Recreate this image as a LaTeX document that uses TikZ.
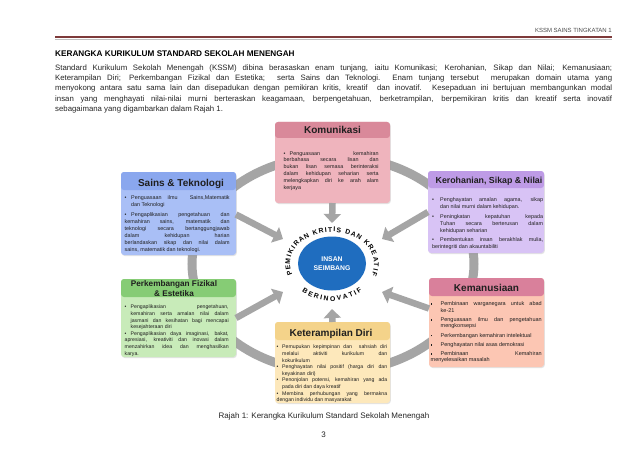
\documentclass[tikz,border=0pt]{standalone}
\usepackage{fontspec}
\setmainfont{Liberation Sans}
\usetikzlibrary{arrows.meta,decorations.text,shadows,shapes.geometric}
\definecolor{komH}{HTML}{D9899A}\definecolor{komB}{HTML}{EFB4BD}
\definecolor{sainsH}{HTML}{8AA7EE}\definecolor{sainsB}{HTML}{A9BFF6}
\definecolor{kerohH}{HTML}{BE9BE6}\definecolor{kerohB}{HTML}{D8C3F5}
\definecolor{perkH}{HTML}{86CC75}\definecolor{perkB}{HTML}{C8EBB9}
\definecolor{kemH}{HTML}{D9809B}\definecolor{kemB}{HTML}{FCC6B3}
\definecolor{keterH}{HTML}{F4D38A}\definecolor{keterB}{HTML}{FDE8BB}
\definecolor{arrowgray}{HTML}{A5A5A5}
\definecolor{insanblue}{HTML}{1F6DBF}
\definecolor{rulecol}{HTML}{7E3A3A}
\tolerance=10000 \hbadness=10000 \hfuzz=40pt \hyphenpenalty=10000
\newcommand\bul[2]{\par\hangindent=#1\hangafter=1\noindent\makebox[#1][l]{\textbullet}\ignorespaces#2}
\newcommand\sqb[2]{\par\hangindent=#1\hangafter=1\noindent\makebox[#1][l]{\rule[0.6pt]{1.7pt}{1.7pt}}\ignorespaces#2}
\newcommand\gap{\par\vspace{2.4pt}}
\newcommand\arcfont{\bfseries\fontsize{6.8}{6.8}\selectfont}
\tikzset{
 box/.style={rounded corners=3pt, inner sep=0pt, outer sep=0pt,
   drop shadow={shadow xshift=0.8pt, shadow yshift=-1pt, opacity=0.22}},
 hdr/.style 2 args={path picture={\fill[#1] (path picture bounding box.north west) rectangle ([yshift=-#2]path picture bounding box.north east);}},
 ttl/.style={inner sep=0pt, font=\bfseries\fontsize{10}{10}\selectfont, text=black!88, align=center},
 txt/.style={anchor=north west, inner sep=0pt, text width=#1, align=justify, text=black!88, font=\fontsize{5.4}{6.8}\selectfont},
 bigarrow/.style={draw=arrowgray, line width=6.5pt, -{Triangle[width=17pt,length=9pt]}},
 ring/.style={draw=arrowgray, line width=9pt},
}
\begin{document}
\begin{tikzpicture}[x=1pt,y=-1pt]
\useasboundingbox (0,0) rectangle (638,452);
\fill[white] (0,0) rectangle (638,452);
% page header
\node[anchor=base east, inner sep=0pt, font=\fontsize{6}{6}\selectfont, text=black!70] (hdrtext) at (612,33) {KSSM SAINS TINGKATAN 1};
\draw[black!25, line width=1pt] (55,39.3) -- (612,39.3);
\draw[rulecol, line width=2.6pt] (55,37) -- (612,37);
\node[anchor=base west, inner sep=0pt, font=\bfseries\fontsize{8.2}{8.2}\selectfont] (title) at (55,57) {KERANGKA KURIKULUM STANDARD SEKOLAH MENENGAH};
\node[anchor=north west, inner sep=0pt, text width=557pt, align=justify, font=\fontsize{7.8}{10.3}\selectfont, text=black!85] (para) at (55,64.5) {Standard Kurikulum Sekolah Menengah (KSSM) dibina berasaskan enam tunjang, iaitu Komunikasi; Kerohanian, Sikap dan Nilai; Kemanusiaan;\linebreak Keterampilan Diri; Perkembangan Fizikal dan Estetika;\ \ serta Sains dan Teknologi.\ \ Enam tunjang tersebut\ \ merupakan domain utama yang\linebreak menyokong antara satu sama lain dan disepadukan dengan pemikiran kritis, kreatif\ \ dan inovatif. Kesepaduan ini bertujuan membangunkan modal\linebreak insan yang menghayati nilai-nilai murni berteraskan keagamaan, berpengetahuan, berketrampilan, berpemikiran kritis dan kreatif serta inovatif\linebreak sebagaimana yang digambarkan dalam Rajah 1.};
% ring behind boxes
\draw[ring] (333,264) ellipse [x radius=141, y radius=108];
% boxes
\node[box, fill=komB, hdr={komH}{16pt}, minimum width=115pt, minimum height=81pt] (kom) at (332.5,162.5) {};
\node[box, fill=sainsB, hdr={sainsH}{18pt}, minimum width=115pt, minimum height=83pt] (sains) at (178.5,213.5) {};
\node[box, fill=kerohB, hdr={kerohH}{17pt}, minimum width=116pt, minimum height=82pt] (keroh) at (486,212) {};
\node[box, fill=perkB, hdr={perkH}{18pt}, minimum width=115pt, minimum height=78pt] (perk) at (178.5,318) {};
\node[box, fill=kemB, hdr={kemH}{18pt}, minimum width=115pt, minimum height=89pt] (kem) at (486.5,322.5) {};
\node[box, fill=keterB, hdr={keterH}{18pt}, minimum width=115pt, minimum height=81pt] (keter) at (332.5,362.5) {};
% titles
\node[ttl] (komT) at (332.5,130) {Komunikasi};
\node[ttl] (sainsT) at (181,183.5) {Sains \& Teknologi};
\node[ttl, font=\bfseries\fontsize{8.8}{8.8}\selectfont] (kerohT) at (489,181.5) {Kerohanian, Sikap \& Nilai};
\node[ttl, font=\bfseries\fontsize{8.2}{10.6}\selectfont] (perkT) at (174,288.5) {Perkembangan Fizikal\\\& Estetika};
\node[ttl] (kemT) at (486.5,288) {Kemanusiaan};
\node[ttl] (keterT) at (331,333.5) {Keterampilan Diri};
% body texts
\node[txt=95pt] (komX) at (283.5,148) {\bul{6pt}{Penguasaan kemahiran\linebreak berbahasa secara lisan dan\linebreak bukan lisan semasa berinteraksi\linebreak dalam kehidupan seharian serta\linebreak melengkapkan diri ke arah alam\linebreak kerjaya}};
\node[txt=105pt, font=\fontsize{5.4}{7}\selectfont] (sainsX) at (124.5,192.5) {\bul{6.5pt}{Penguasaan ilmu\ \ Sains,Matematik\linebreak dan Teknologi}\gap
\bul{6.5pt}{Pengaplikasian pengetahuan dan\linebreak kemahiran sains, matematik dan\linebreak teknologi secara bertanggungjawab\linebreak dalam kehidupan harian\linebreak berlandaskan sikap dan nilai dalam\linebreak sains, matematik dan teknologi.}};
\node[txt=111pt, font=\fontsize{5.4}{7}\selectfont] (kerohX) at (432,194.5) {\bul{8pt}{Penghayatan amalan agama, sikap\linebreak dan nilai murni dalam kehidupan.}\gap
\bul{8pt}{Peningkatan kepatuhan kepada\linebreak Tuhan secara berterusan dalam\linebreak kehidupan seharian}\gap
\bul{8pt}{Pembentukan insan berakhlak mulia,\linebreak berintegriti dan akauntabiliti}};
\node[txt=104pt, font=\fontsize{5.2}{6.6}\selectfont] (perkX) at (124.5,302) {\bul{6pt}{Pengaplikasian pengetahuan,\linebreak kemahiran serta amalan nilai dalam\linebreak jasmani dan kesihatan bagi mencapai\linebreak kesejahteraan diri}
\bul{6pt}{Pengaplikasian daya imaginasi, bakat,\linebreak apresiasi, kreativiti dan inovasi dalam\linebreak menzahirkan idea dan menghasilkan\linebreak karya.}};
\node[txt=111pt, font=\fontsize{5.5}{6.7}\selectfont] (kemX) at (430.5,298.5) {\sqb{10pt}{Pembinaan warganegara untuk abad\linebreak ke-21}\gap
\sqb{10pt}{Penguasaan ilmu dan pengetahuan\linebreak mengkonsepsi}\gap
\sqb{10pt}{Perkembangan kemahiran intelektual}\gap
\sqb{10pt}{Penghayatan nilai asas demokrasi}\gap
\sqb{10pt}{Pembinaan Kemahiran\linebreak menyelesaikan masalah}};
\node[txt=110.5pt, font=\fontsize{5.2}{6.6}\selectfont] (keterX) at (276.5,342) {\bul{5.5pt}{Pemupukan kepimpinan dan\ \ sahsiah diri\linebreak melalui aktiviti kurikulum dan\linebreak kokurikulum}
\bul{5.5pt}{Penghayatan nilai positif (harga diri dan\linebreak keyakinan diri)}
\bul{5.5pt}{Penonjolan potensi, kemahiran yang ada\linebreak pada diri dan daya kreatif}
\bul{5.5pt}{Membina perhubungan yang bermakna\linebreak dengan individu dan masyarakat}};
% centre
\begin{scope}[shift={(332,264)}, y=1pt]
\node[ellipse, fill=insanblue, minimum width=68pt, minimum height=54pt, inner sep=0pt, align=center, text=white, font=\bfseries\fontsize{6.8}{9.5}\selectfont] (insan) at (0,0.5) {INSAN\\SEIMBANG};
\path[decorate, decoration={text along path, text={|\arcfont|PEMIKIRAN KRITIS DAN KREATIF}, text align={fit to path}}] (200:42 and 32) arc[start angle=200, end angle=-20, x radius=42, y radius=32];
\path[decorate, decoration={text along path, text={|\arcfont|BERINOVATIF}, text align={fit to path}}] (228:45 and 37) arc[start angle=228, end angle=312, x radius=45, y radius=37];
\coordinate (tipN) at (0,41);
\coordinate (tipS) at (0,-45);
\coordinate (tipNW) at (-49,25);
\coordinate (tipNE) at (50,25);
\coordinate (tipSW) at (-49,-28);
\coordinate (tipSE) at (50,-28);
\end{scope}
% arrows
\draw[bigarrow] (kom.south) -- (tipN);
\draw[bigarrow] (keter.north) -- (tipS);
\draw[bigarrow] ([yshift=-1pt]sains.east) -- (tipNW);
\draw[bigarrow] (keroh.west) -- (tipNE);
\draw[bigarrow] (perk.east) -- (tipSW);
\draw[bigarrow] ([yshift=14pt]kem.west) -- (tipSE);
% caption
\node[anchor=base, inner sep=0pt, font=\fontsize{8}{8}\selectfont, text=black!85] (caption) at (324,418) {Rajah 1: Kerangka Kurikulum Standard Sekolah Menengah};
\node[anchor=base, inner sep=0pt, font=\fontsize{8}{8}\selectfont, text=black!85] (pageno) at (323.5,437) {3};
\end{tikzpicture}
\end{document}
